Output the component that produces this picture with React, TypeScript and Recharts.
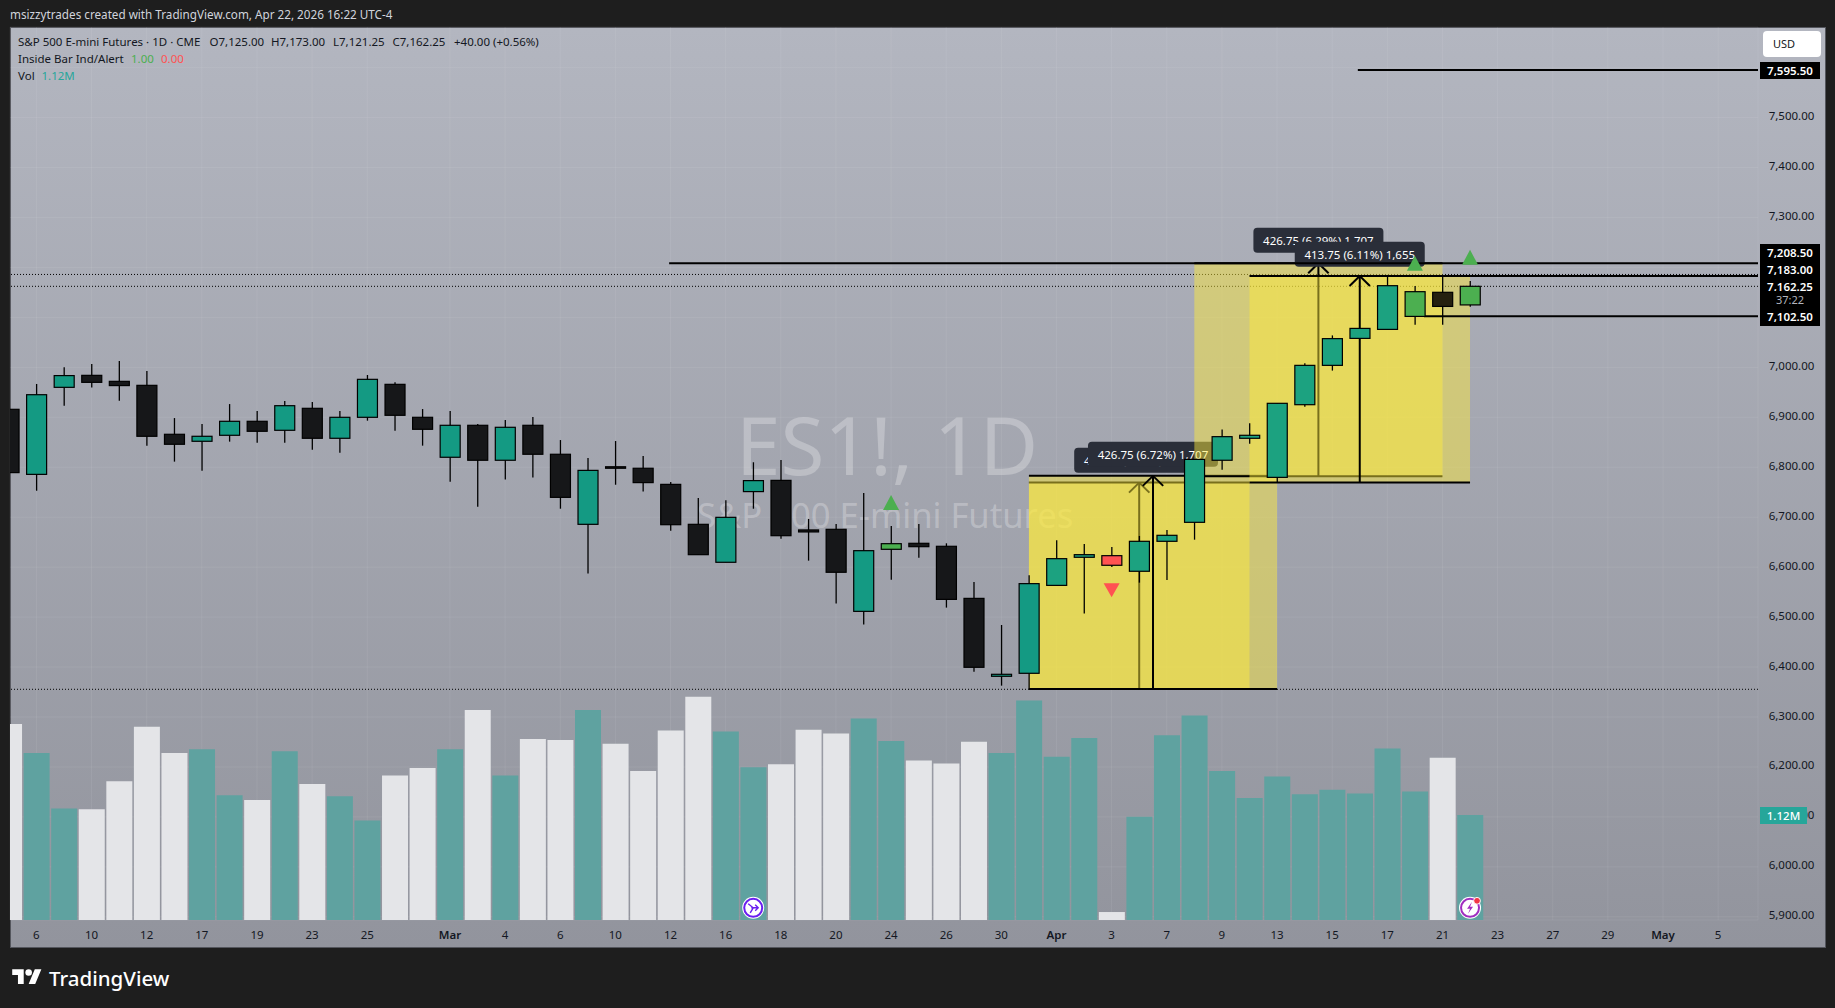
import React from 'react';
import { ComposedChart, Bar, Cell, XAxis, YAxis, CartesianGrid, ReferenceArea, ReferenceLine, ReferenceDot } from 'recharts';

const FONT = '"Noto Sans", sans-serif';
const TEXT = '#131722';

const barIndex = [-1,0,1,2,3,4,5,6,7,8,9,10,11,12,13,14,15,16,17,18,19,20,21,22,23,24,25,26,27,28,29,30,31,32,33,34,35,36,37,38,39,40,41,42,43,44,45,46,47,48,49,50,51,52];
const highs = [6916,6966.75,7000,7006.75,7012.75,6992.75,6898.5,6886.5,6926.5,6912.5,6932.5,6930.5,6912.5,6984.75,6970,6916.5,6912.5,6886.5,6894.5,6900.5,6854.5,6818.5,6852.5,6822.5,6770.5,6738.5,6733.75,6810,6814.5,6696.5,6686.5,6748.5,6682.5,6686.5,6647.75,6570.25,6484.25,6583.75,6653.75,6646.5,6640.5,6662.5,6674.5,6815.75,6875.75,6888,6928,7008,7064,7078,7185,7163,7185,7173];
const lows = [6789.25,6753,6923.25,6959.5,6933.25,6843.25,6811.25,6793.25,6851.25,6849.25,6849.25,6835.25,6829.25,6893.25,6873.25,6843.25,6771,6721,6775.25,6779.25,6717,6587.5,6765,6751.25,6673,6625,6609.75,6717,6657,6613,6527,6485,6575,6619,6519,6390.75,6362.75,6356,6563.5,6507,6600.25,6569,6574.25,6655,6795.25,6847.25,6769,6921.25,6993.5,7058,7076,7085.5,7085.5,7121.25];
const opens = [6916,6785.75,6960,6984,6972,6964,6866,6852,6864,6892,6874,6918,6858,6900,6966,6900,6820,6884,6814,6884,6826,6685.75,6801,6798,6765.75,6685.75,6609.75,6751.25,6773.75,6674.5,6675.75,6511.5,6635.75,6647.75,6641.75,6537.5,6381.5,6387.5,6563.5,6619.75,6623,6591.75,6651.75,6689.75,6814,6858,6779.75,6925.25,7004,7058,7076,7102,7150.25,7125];
const closes = [6789.25,6945.25,6983.5,6970,6963.5,6862,6846,6862,6892,6872,6923.25,6858,6900,6976,6904,6876,6884,6814,6880,6826,6739.75,6793.75,6798,6769.25,6685,6625,6699.75,6773.25,6663,6670.5,6589.75,6633,6647,6641,6535.5,6399.5,6385.5,6567,6617,6625,6603.75,6651.75,6663.75,6815.75,6861.25,6864,6928,7004,7057.5,7078,7163.5,7151.5,7122,7162.25];
const kinds = ['D','U','U','D','D','D','D','U','U','D','U','D','U','U','D','D','U','D','U','D','D','U','D','D','D','D','U','U','D','D','D','U','G','D','D','D','U','U','T','T','R','T','T','T','T','T','T','T','T','T','T','G','Y','G'];
const volumes = [2.09,1.78,1.19,1.18,1.48,2.06,1.78,1.82,1.33,1.28,1.80,1.45,1.32,1.06,1.54,1.62,1.82,2.24,1.54,1.93,1.92,2.24,1.88,1.59,2.02,2.38,2.01,1.63,1.66,2.03,1.99,2.15,1.91,1.70,1.67,1.90,1.78,2.34,1.74,1.94,0.085,1.10,1.97,2.18,1.59,1.30,1.53,1.34,1.39,1.35,1.83,1.37,1.73,1.12];
const volumeUp = [0,1,1,0,0,0,0,1,1,0,1,0,1,1,0,0,1,0,1,0,0,1,0,0,0,0,1,1,0,0,0,1,1,0,0,0,1,1,1,1,0,1,1,1,1,1,1,1,1,1,1,1,0,1];

const xTickIndex = [0,2,4,6,8,10,12,15,17,19,21,23,25,27,29,31,33,35,37,39,41,43,45,47,49,51,53,55,57,59,61];
const xTickLabels = ['6','10','12','17','19','23','25','Mar','4','6','10','12','16','18','20','24','26','30','Apr','3','7','9','13','15','17','21','23','27','29','May','5'];
const priceTicks = [7600,7500,7400,7300,7200,7100,7000,6900,6800,6700,6600,6500,6400,6300,6200,6100,6000,5900];

const measureLeft = [36,36,42,44];
const measureRight = [44,45,51,52];
const measureTop = [6769.25,6782.75,7208.5,7183];
const measureBottom = [6356,6356,6781.75,6769.25];
const measureLabelPrice = [6814,6826,7254.5,7226.5];
const measureText = ['426.75 (6.72%) 1,707','426.75 (6.72%) 1,707','426.75 (6.29%) 1,707','413.75 (6.11%) 1,655'];

const rayPrice = [7595.5,7208.5,7183,7102.5];
const rayStart = [47.93,22.95,52,50.33];
const dottedPrice = [7186,7162.25,6355.5];

const triangleIndex = [31,39,50,52];
const trianglePrice = [6729.5,6554,7208.25,7220.25];
const triangleDir = ['up','down','up','up'];

const rows = barIndex.map((i, k) => ({
  i, range: [lows[k], highs[k]], open: opens[k], close: closes[k], kind: kinds[k], vol: volumes[k], up: volumeUp[k],
}));

const BODY: any = { U: '#149a83', T: '#1ca280', D: '#161719', Y: '#25200f', G: '#4caf50', R: '#ff5252' };
const DOMAIN_X = [-0.9576, 62.445];
const DOMAIN_Y = [5893.6, 7681.4];
const YELLOW = '#ffeb3b';

function Candle(props: any) {
  const { x, y, width, height, payload } = props;
  const top = Math.min(y, y + height);
  const h = Math.abs(height);
  const hi = payload.range[1];
  const lo = payload.range[0];
  const k = hi > lo ? h / (hi - lo) : 0;
  const y1 = top + (hi - Math.max(payload.open, payload.close)) * k;
  const y2 = top + (hi - Math.min(payload.open, payload.close)) * k;
  const cx = x + width / 2;
  return (
    <g>
      <line x1={cx} x2={cx} y1={top} y2={top + h} stroke="#000" strokeWidth={1.3} />
      <rect x={x} y={y1} width={width} height={Math.max(y2 - y1, 1)} fill={BODY[payload.kind]} stroke="#000" strokeWidth={1.2} />
    </g>
  );
}

function XTick(props: any) {
  const { x, payload } = props;
  const label = xTickLabels[xTickIndex.indexOf(payload.value)];
  const strong = label === 'Mar' || label === 'Apr' || label === 'May';
  return (
    <text x={x} y={934} textAnchor="middle" dominantBaseline="central" fontFamily={FONT} fontSize={11.5} fontWeight={strong ? 600 : 400} fill={TEXT}>
      {label}
    </text>
  );
}

function YTick(props: any) {
  const { y, payload } = props;
  return (
    <text x={1791.5} y={y - 2} textAnchor="middle" dominantBaseline="central" fontFamily={FONT} fontSize={11.5} fill={TEXT}>
      {payload.value.toLocaleString('en-US', { minimumFractionDigits: 2, maximumFractionDigits: 2 })}
    </text>
  );
}

function Triangle(dir: string, color: string) {
  return (p: any) => {
    const { cx, cy } = p;
    const pts = dir === 'up'
      ? `${cx - 8},${cy + 7.5} ${cx + 8},${cy + 7.5} ${cx},${cy - 7.5}`
      : `${cx - 8},${cy - 7} ${cx + 8},${cy - 7} ${cx},${cy + 7}`;
    return <polygon points={pts} fill={color} />;
  };
}

function MeasureLabel(text: string) {
  return (p: any) => {
    const { cx, cy } = p;
    return (
      <g>
        <rect x={cx - 65} y={cy - 12.5} width={130} height={25} rx={4} fill="#2a2e39" />
        <text x={cx} y={cy} textAnchor="middle" dominantBaseline="central" fontFamily={FONT} fontSize={11.5} fill="#fff">{text}</text>
      </g>
    );
  };
}

function EventArrow(p: any) {
  const { cx, cy } = p;
  return (
    <g>
      <circle cx={cx} cy={cy} r={11} fill="#fff" />
      <circle cx={cx} cy={cy} r={9} fill="#fff" stroke="#6a1ff0" strokeWidth={2} />
      <path d={`M${cx - 5},${cy - 4} L${cx},${cy} L${cx - 3},${cy + 5} M${cx - 2},${cy} L${cx + 5},${cy} M${cx + 2},${cy - 3} L${cx + 5},${cy} L${cx + 2},${cy + 3}`} fill="none" stroke="#6a1ff0" strokeWidth={1.4} />
    </g>
  );
}

function EventBolt(p: any) {
  const { cx, cy } = p;
  return (
    <g>
      <circle cx={cx} cy={cy} r={11} fill="#fff" />
      <circle cx={cx} cy={cy} r={9} fill="#fff" stroke="#a02ec0" strokeWidth={2} />
      <path d={`M${cx + 2},${cy - 6} L${cx - 3},${cy + 1} L${cx},${cy + 1} L${cx - 2},${cy + 6} L${cx + 3},${cy - 1} L${cx},${cy - 1} Z`} fill="#a02ec0" />
      <circle cx={cx + 7} cy={cy - 7} r={3.4} fill="#f23645" stroke="#fff" strokeWidth={1} />
    </g>
  );
}

const ids = { xAxisId: 'x', yAxisId: 'price' };

const span = (left: number, top: number, text: string, color = TEXT, extra: any = {}) => (
  <div style={{ position: 'absolute', left, top, transform: 'translateY(-50%)', whiteSpace: 'nowrap', color, fontFamily: FONT, fontSize: 11.5, lineHeight: 1, ...extra }}>{text}</div>
);

const badge = (top: number, h: number, text: string, color = '#fff', size = 11.5, weight = 600) => (
  <div key={text} style={{ position: 'absolute', left: 1760, width: 60, top, height: h, background: '#000', color, fontFamily: FONT, fontSize: size, fontWeight: weight, lineHeight: `${h}px`, textAlign: 'center' }}>{text}</div>
);

export default function App() {
  return (
    <div style={{ position: 'absolute', left: 0, top: 0, width: 1835, height: 1008, background: '#1e1e1e', overflow: 'hidden' }}>
      <div style={{ position: 'absolute', left: 10, top: 27, width: 1814, height: 919, border: '1px solid #54565d', background: 'linear-gradient(180deg,#b3b6c0 0%,#92949d 100%)' }} />
      <div style={{ position: 'absolute', left: 736, top: 444, transform: 'translateY(-50%)', fontFamily: FONT, fontSize: 80, lineHeight: 1, color: 'rgba(255,255,255,0.27)', whiteSpace: 'nowrap' }}>ES1!, 1D</div>
      <div style={{ position: 'absolute', left: 697, top: 515, transform: 'translateY(-50%)', fontFamily: FONT, fontSize: 34.6, lineHeight: 1, color: 'rgba(255,255,255,0.27)', whiteSpace: 'nowrap' }}>S&amp;P 500 E-mini Futures</div>

      <div style={{ position: 'absolute', left: 0, top: 0 }}>
        <ComposedChart width={1835} height={1008} data={rows} margin={{ top: 27, left: 10, right: 10, bottom: 61 }} barGap={0}>
          <CartesianGrid {...ids} stroke="rgba(255,255,255,0.07)" strokeWidth={1} />
          <XAxis xAxisId="x" type="number" dataKey="i" domain={DOMAIN_X} allowDataOverflow ticks={xTickIndex} interval={0} height={27} tick={<XTick />} tickLine={false} axisLine={false} />
          <XAxis xAxisId="v" type="number" dataKey="i" domain={DOMAIN_X} allowDataOverflow hide />
          <YAxis yAxisId="price" orientation="right" type="number" domain={DOMAIN_Y} allowDataOverflow ticks={priceTicks} interval={0} width={67} tick={<YTick />} tickLine={false} axisLine={false} />
          <YAxis yAxisId="vol" orientation="right" type="number" domain={[0, 9.525]} allowDataOverflow hide />

          <Bar xAxisId="v" yAxisId="vol" dataKey="vol" barSize={26} isAnimationActive={false} zIndex={50}>
            {rows.map((r) => <Cell key={r.i} fill={r.up ? '#5fa2a0' : '#e4e5e8'} />)}
          </Bar>

          {dottedPrice.map((p) => (
            <ReferenceLine key={p} {...ids} y={p} stroke="#000" strokeWidth={1} strokeDasharray="1 2" zIndex={90} />
          ))}

          {measureLeft.map((l, m) => {
            const r = measureRight[m];
            const t = measureTop[m];
            const b = measureBottom[m];
            const c = (l + r) / 2;
            const z = 100 + m * 10;
            return (
              <React.Fragment key={m}>
                <ReferenceArea {...ids} x1={l} x2={r} y1={b} y2={t} fill={YELLOW} fillOpacity={0.47} stroke="none" zIndex={z} />
                <ReferenceLine {...ids} segment={[{ x: l, y: t }, { x: r, y: t }]} stroke="#000" strokeWidth={2} zIndex={z + 1} />
                <ReferenceLine {...ids} segment={[{ x: l, y: b }, { x: r, y: b }]} stroke="#000" strokeWidth={2} zIndex={z + 1} />
                <ReferenceLine {...ids} segment={[{ x: c, y: b }, { x: c, y: t }]} stroke="#000" strokeWidth={2} zIndex={z + 1} />
                <ReferenceLine {...ids} segment={[{ x: c - 0.37, y: t - 20 }, { x: c, y: t }]} stroke="#000" strokeWidth={2} zIndex={z + 1} />
                <ReferenceLine {...ids} segment={[{ x: c + 0.37, y: t - 20 }, { x: c, y: t }]} stroke="#000" strokeWidth={2} zIndex={z + 1} />
                <ReferenceDot {...ids} x={c} y={measureLabelPrice[m]} r={1} shape={MeasureLabel(measureText[m])} zIndex={z + 2} />
              </React.Fragment>
            );
          })}

          {rayPrice.map((p, k) => (
            <ReferenceLine key={p} {...ids} segment={[{ x: rayStart[k], y: p }, { x: DOMAIN_X[1], y: p }]} stroke="#000" strokeWidth={2} zIndex={145} />
          ))}

          <Bar {...ids} dataKey="range" barSize={20} isAnimationActive={false} shape={<Candle />} zIndex={300} />

          {triangleIndex.map((i, k) => (
            <ReferenceDot key={i} {...ids} x={i} y={trianglePrice[k]} r={1} shape={Triangle(triangleDir[k], triangleDir[k] === 'up' ? '#4caf50' : '#ff5252')} zIndex={320} />
          ))}
          <ReferenceDot {...ids} x={26} y={5918} r={11} shape={EventArrow} zIndex={330} />
          <ReferenceDot {...ids} x={52} y={5918} r={11} shape={EventBolt} zIndex={330} />
        </ComposedChart>
      </div>

      {span(10, 15, 'msizzytrades created with TradingView.com, Apr 22, 2026 16:22 UTC-4', '#d1d4dc', { fontSize: 11.7 })}
      {span(18, 41.5, 'S&P 500 E-mini Futures · 1D · CME')}
      {span(209.5, 41.5, 'O7,125.00')}
      {span(271, 41.5, 'H7,173.00')}
      {span(333, 41.5, 'L7,121.25')}
      {span(392.5, 41.5, 'C7,162.25')}
      {span(454, 41.5, '+40.00 (+0.56%)')}
      {span(18, 58.5, 'Inside Bar Ind/Alert')}
      {span(131, 58.5, '1.00', '#4caf50')}
      {span(161, 58.5, '0.00', '#ff5252')}
      {span(18, 75.5, 'Vol')}
      {span(41.5, 75.5, '1.12M', '#26a69a')}

      <div style={{ position: 'absolute', left: 1763, top: 31, width: 58, height: 26, background: '#fff', borderRadius: 4, color: TEXT, fontFamily: FONT, fontSize: 11, lineHeight: '26px', paddingLeft: 10, boxSizing: 'border-box' }}>USD</div>
      {badge(62, 17, '7,595.50')}
      <div style={{ position: 'absolute', left: 1760, top: 244, width: 60, height: 82, background: '#000' }} />
      {badge(243.5, 17, '7,208.50')}
      {badge(260.5, 17, '7,183.00')}
      {badge(277.5, 17, '7,162.25')}
      {badge(291, 17, '37:22', '#b2b5be', 11, 400)}
      {badge(308, 17, '7,102.50')}
      <div style={{ position: 'absolute', left: 1760, top: 807, width: 47, height: 17, background: '#26a69a', color: '#fff', fontFamily: FONT, fontSize: 11.5, fontWeight: 500, lineHeight: '17px', textAlign: 'center' }}>1.12M</div>

      <svg style={{ position: 'absolute', left: 12, top: 966 }} width={30} height={23} viewBox="0 0 36 28">
        <path fill="#fff" d="M14 22H7V11H0V4h14v18zM28 22h-8l7.5-18h8L28 22z" />
        <circle fill="#fff" cx="20" cy="8" r="4" />
      </svg>
      {span(49, 977.5, 'TradingView', '#fff', { fontSize: 20.5, fontWeight: 500 })}
    </div>
  );
}
